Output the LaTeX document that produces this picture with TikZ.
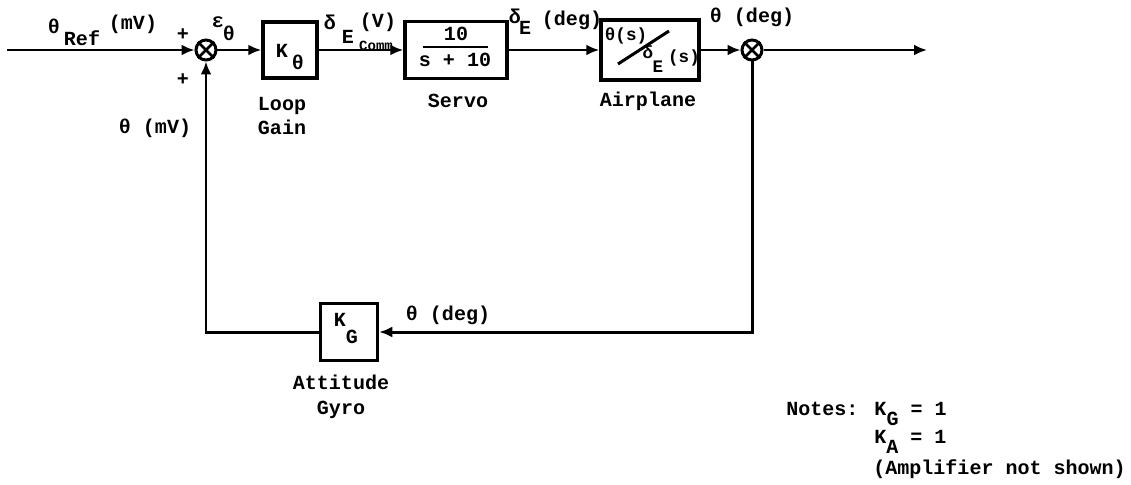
\documentclass[tikz,border=0pt]{standalone}
\usepackage{fontspec}
\newfontfamily\typer{Liberation Mono}
\usetikzlibrary{arrows.meta,positioning}
\tikzset{
  blk/.style={draw,line width=2pt,minimum width=1.1cm,minimum height=1.12cm,inner sep=0pt},
  sumpt/.style={circle,draw,line width=1.7pt,minimum size=0.4cm,inner sep=0pt},
  lbl/.style={inner sep=0pt,font=\typer\bfseries\fontsize{11.4}{13}\selectfont},
  tight/.style={inner sep=0pt,font=\typer\bfseries\fontsize{10}{11}\selectfont},
  small/.style={inner sep=0pt,font=\typer\bfseries\fontsize{8}{9}\selectfont},
  arrow/.style={-{Latex[length=2.6mm,width=2.2mm]},line width=1.7pt},
  wire/.style={line width=1.7pt}
}

\begin{document}
\begin{tikzpicture}[x=0.02cm,y=-0.02cm]
  \useasboundingbox (0,0) rectangle (1131,484);
  \node[sumpt] (sumA) at (206,50) {};
  \node[sumpt] (sumB) at (752,50) {};
  \node[blk,minimum width=1.08cm] (kth) at (290,50) {};
  \node[blk,minimum width=2.04cm,minimum height=1.14cm] (servo) at (456,50) {};
  \node[blk,minimum width=1.96cm,minimum height=1.2cm] (plane) at (650,50) {};
  \node[blk,minimum width=1.14cm,minimum height=1.14cm] (kg) at (349,332) {};
  \coordinate (ref) at (7,50);
  \coordinate (outp) at (927,50);
  \foreach \s in {sumA,sumB} {
    \draw[line width=1.5pt] (\s.north east) -- (\s.south west);
    \draw[line width=1.5pt] (\s.north west) -- (\s.south east);
  }
  \draw[arrow] (ref) -- (sumA);
  \draw[arrow] (sumA) -- (kth);
  \draw[arrow] (kth) -- (servo);
  \draw[arrow] (servo) -- (plane);
  \draw[arrow] (plane) -- (sumB);
  \draw[arrow] (sumB) -- (outp);
  \draw[arrow] (sumB.south) |- (kg);
  \draw[arrow] (kg) -| (sumA);
  % box contents
  \node[lbl] (kthK) at (282,51) {K};
  \node[lbl] (kthS) at (298,62) {θ};
  \node[lbl] (num) at (456,34) {10};
  \node[lbl] (den) at (455,60) {s + 10};
  \draw[wire] (423,47) -- (488,47);
  \node[tight] (tfN) at (626,36) {θ(s)};
  \node[tight] (tfD) at (648,52) {δ};
  \node[tight] (tfE) at (658,67) {E};
  \node[tight] (tfS) at (684,58) {(s)};
  \draw[wire] (618,64) -- (669,31);
  \node[lbl] (kgK) at (340,320) {K};
  \node[lbl] (kgG) at (352,337) {G};
  % signal labels
  \node[lbl] (refT) at (54,26) {θ};
  \node[lbl] (refR) at (82,38) {Ref};
  \node[lbl] (refU) at (133,24) {(mV)};
  \node[lbl] (plusA) at (183,35) {+};
  \node[lbl] (plusB) at (183,80) {+};
  \node[lbl] (errE) at (218,22) {ε};
  \node[lbl] (errT) at (229,33) {θ};
  \node[lbl] (cmdD) at (330,22) {δ};
  \node[lbl] (cmdE) at (348,37) {E};
  \node[small] (cmdC) at (376,46) {Comm};
  \node[lbl] (cmdV) at (378,22) {(V)};
  \node[lbl] (defD) at (515,16) {δ};
  \node[lbl] (defE) at (525,28) {E};
  \node[lbl] (defU) at (572,20) {(deg)};
  \node[lbl] (outT) at (752,17) {θ (deg)};
  \node[lbl] (fbT) at (448,315) {θ (deg)};
  \node[lbl] (fbM) at (155,128) {θ (mV)};
  % block names
  \node[lbl,align=center] (gainL) at (282,116) {Loop\\[1pt]Gain};
  \node[lbl] (servoL) at (458,101) {Servo};
  \node[lbl] (planeL) at (648,101) {Airplane};
  \node[lbl,align=center] (gyroL) at (341,397) {Attitude\\[1pt]Gyro};
  % notes
  \node[lbl,anchor=base west] (noteA) at (786,415) {Notes: K\raisebox{-6pt}{G} = 1};
  \node[lbl,anchor=base west] (noteB) at (874,443) {K\raisebox{-6pt}{A} = 1};
  \node[lbl,anchor=base west] (noteC) at (873,474) {(Amplifier not shown)};
\end{tikzpicture}
\end{document}
